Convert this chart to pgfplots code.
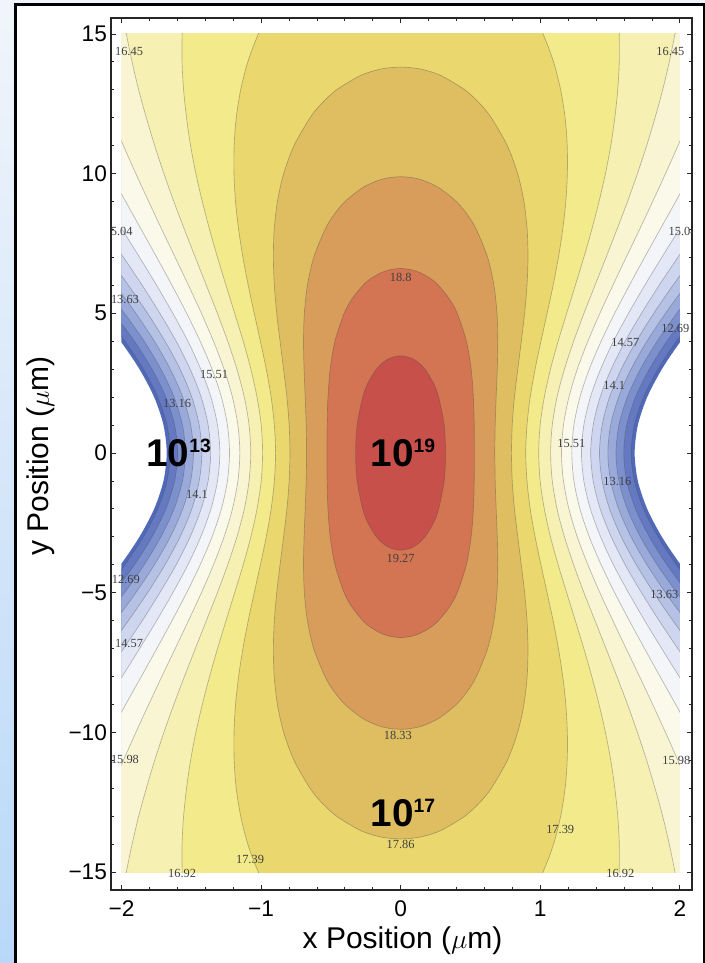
\documentclass[border=0pt]{standalone}
\usepackage{pgfplots}
\pgfplotsset{compat=1.18}
\usepackage{fontspec}
\setmainfont{Liberation Sans}
\newfontfamily\serifnum{Liberation Serif}
\definecolor{bgtop}{HTML}{F1F5FB}
\definecolor{bgmid}{HTML}{D9E8F8}
\definecolor{bgbot}{HTML}{B9D8F8}
\definecolor{c0}{HTML}{5069B9}
\definecolor{c1}{HTML}{6479C2}
\definecolor{c2}{HTML}{7D90CE}
\definecolor{c3}{HTML}{99A9DA}
\definecolor{c4}{HTML}{B5C1E5}
\definecolor{c5}{HTML}{CED6EF}
\definecolor{c6}{HTML}{E4E8F6}
\definecolor{c7}{HTML}{F4F5F8}
\definecolor{c8}{HTML}{FAF9EA}
\definecolor{c9}{HTML}{F9F5D3}
\definecolor{c10}{HTML}{F6F0B2}
\definecolor{c11}{HTML}{F3EA8B}
\definecolor{c12}{HTML}{EAD76D}
\definecolor{c13}{HTML}{DFBE62}
\definecolor{c14}{HTML}{D99D5B}
\definecolor{c15}{HTML}{D37452}
\definecolor{c16}{HTML}{C8504B}
\tikzset{clab/.style={font=\serifnum\fontsize{9.3}{9.3}\selectfont, text=black!75, inner sep=0pt},
big/.style={anchor=base, inner sep=0pt, font=\fontsize{29}{29}\selectfont\bfseries}}
\newcommand{\sups}[1]{\raisebox{0.36em}{\fontsize{14.5}{14.5}\selectfont #1}}
\begin{document}
\begin{tikzpicture}
\useasboundingbox (0,0) rectangle (528.75pt,722.25pt);
\shade[top color=bgtop, middle color=bgmid, bottom color=bgbot] (0,0) rectangle (528.75pt,722.25pt);
\filldraw[fill=white, draw=black, line width=1.9pt] (11.5pt,-6pt) rectangle (527.85pt,718.7pt);

\begin{axis}[at={(91.10pt,68.16pt)}, anchor=south west, scale only axis,
  width=418.8pt, height=628.65pt, xmin=-2, xmax=2, ymin=-15, ymax=15, hide axis,
  every axis plot/.append style={smooth, line width=0.5pt, draw=black!70, draw opacity=0.38}]
% f > 12.00
\addplot[fill=c0, draw=none] coordinates {(2.338,-6)(2.164,-5)(2.006,-4)(1.871,-3)(1.766,-2)(1.699,-1)(1.676,0)(1.699,1)(1.766,2)(1.871,3)(2.006,4)(2.164,5)(2.338,6)(2.6,6)(2.6,16)(-2.6,16)(-2.6,6)(-2.338,6)(-2.164,5)(-2.006,4)(-1.871,3)(-1.766,2)(-1.699,1)(-1.676,0)(-1.699,-1)(-1.766,-2)(-1.871,-3)(-2.006,-4)(-2.164,-5)(-2.338,-6)(-2.6,-6)(-2.6,-16)(2.6,-16)(2.6,-6)(2.338,-6)};
% 12.22
\addplot[fill=c1] coordinates {(2.300,-6)(2.130,-5)(1.975,-4)(1.843,-3)(1.740,-2)(1.674,-1)(1.651,0)(1.674,1)(1.740,2)(1.843,3)(1.975,4)(2.130,5)(2.300,6)(2.6,6)(2.6,16)(-2.6,16)(-2.6,6)(-2.300,6)(-2.130,5)(-1.975,4)(-1.843,3)(-1.740,2)(-1.674,1)(-1.651,0)(-1.674,-1)(-1.740,-2)(-1.843,-3)(-1.975,-4)(-2.130,-5)(-2.300,-6)(-2.6,-6)(-2.6,-16)(2.6,-16)(2.6,-6)(2.300,-6)};
% 12.69
\addplot[fill=c2] coordinates {(2.218,-6)(2.055,-5)(1.907,-4)(1.781,-3)(1.682,-2)(1.619,-1)(1.598,0)(1.619,1)(1.682,2)(1.781,3)(1.907,4)(2.055,5)(2.218,6)(2.6,6)(2.6,16)(-2.6,16)(-2.6,6)(-2.218,6)(-2.055,5)(-1.907,4)(-1.781,3)(-1.682,2)(-1.619,1)(-1.598,0)(-1.619,-1)(-1.682,-2)(-1.781,-3)(-1.907,-4)(-2.055,-5)(-2.218,-6)(-2.6,-6)(-2.6,-16)(2.6,-16)(2.6,-6)(2.218,-6)};
% 13.16
\addplot[fill=c3] coordinates {(2.296,-7)(2.132,-6)(1.978,-5)(1.837,-4)(1.717,-3)(1.623,-2)(1.563,-1)(1.542,0)(1.563,1)(1.623,2)(1.717,3)(1.837,4)(1.978,5)(2.132,6)(2.296,7)(2.6,7)(2.6,16)(-2.6,16)(-2.6,7)(-2.296,7)(-2.132,6)(-1.978,5)(-1.837,4)(-1.717,3)(-1.623,2)(-1.563,1)(-1.542,0)(-1.563,-1)(-1.623,-2)(-1.717,-3)(-1.837,-4)(-1.978,-5)(-2.132,-6)(-2.296,-7)(-2.6,-7)(-2.6,-16)(2.6,-16)(2.6,-7)(2.296,-7)};
% 13.63
\addplot[fill=c4] coordinates {(2.198,-7)(2.043,-6)(1.897,-5)(1.764,-4)(1.650,-3)(1.561,-2)(1.504,-1)(1.484,0)(1.504,1)(1.561,2)(1.650,3)(1.764,4)(1.897,5)(2.043,6)(2.198,7)(2.6,7)(2.6,16)(-2.6,16)(-2.6,7)(-2.198,7)(-2.043,6)(-1.897,5)(-1.764,4)(-1.650,3)(-1.561,2)(-1.504,1)(-1.484,0)(-1.504,-1)(-1.561,-2)(-1.650,-3)(-1.764,-4)(-1.897,-5)(-2.043,-6)(-2.198,-7)(-2.6,-7)(-2.6,-16)(2.6,-16)(2.6,-7)(2.198,-7)};
% 14.10
\addplot[fill=c5] coordinates {(2.244,-8)(2.094,-7)(1.950,-6)(1.813,-5)(1.688,-4)(1.580,-3)(1.496,-2)(1.443,-1)(1.424,0)(1.443,1)(1.496,2)(1.580,3)(1.688,4)(1.813,5)(1.950,6)(2.094,7)(2.244,8)(2.6,8)(2.6,16)(-2.6,16)(-2.6,8)(-2.244,8)(-2.094,7)(-1.950,6)(-1.813,5)(-1.688,4)(-1.580,3)(-1.496,2)(-1.443,1)(-1.424,0)(-1.443,-1)(-1.496,-2)(-1.580,-3)(-1.688,-4)(-1.813,-5)(-1.950,-6)(-2.094,-7)(-2.244,-8)(-2.6,-8)(-2.6,-16)(2.6,-16)(2.6,-8)(2.244,-8)};
% 14.57
\addplot[fill=c6] coordinates {(2.263,-9)(2.123,-8)(1.985,-7)(1.851,-6)(1.725,-5)(1.608,-4)(1.508,-3)(1.429,-2)(1.379,-1)(1.361,0)(1.379,1)(1.429,2)(1.508,3)(1.608,4)(1.725,5)(1.851,6)(1.985,7)(2.123,8)(2.263,9)(2.6,9)(2.6,16)(-2.6,16)(-2.6,9)(-2.263,9)(-2.123,8)(-1.985,7)(-1.851,6)(-1.725,5)(-1.608,4)(-1.508,3)(-1.429,2)(-1.379,1)(-1.361,0)(-1.379,-1)(-1.429,-2)(-1.508,-3)(-1.608,-4)(-1.725,-5)(-1.851,-6)(-1.985,-7)(-2.123,-8)(-2.263,-9)(-2.6,-9)(-2.6,-16)(2.6,-16)(2.6,-9)(2.263,-9)};
% 15.04
\addplot[fill=c7] coordinates {(2.247,-10)(2.121,-9)(1.995,-8)(1.870,-7)(1.748,-6)(1.632,-5)(1.524,-4)(1.432,-3)(1.359,-2)(1.312,-1)(1.295,0)(1.312,1)(1.359,2)(1.432,3)(1.524,4)(1.632,5)(1.748,6)(1.870,7)(1.995,8)(2.121,9)(2.247,10)(2.6,10)(2.6,16)(-2.6,16)(-2.6,10)(-2.247,10)(-2.121,9)(-1.995,8)(-1.870,7)(-1.748,6)(-1.632,5)(-1.524,4)(-1.432,3)(-1.359,2)(-1.312,1)(-1.295,0)(-1.312,-1)(-1.359,-2)(-1.432,-3)(-1.524,-4)(-1.632,-5)(-1.748,-6)(-1.870,-7)(-1.995,-8)(-2.121,-9)(-2.247,-10)(-2.6,-10)(-2.6,-16)(2.6,-16)(2.6,-10)(2.247,-10)};
% 15.51
\addplot[fill=c8] coordinates {(2.187,-11)(2.080,-10)(1.970,-9)(1.858,-8)(1.747,-7)(1.638,-6)(1.533,-5)(1.436,-4)(1.351,-3)(1.284,-2)(1.241,-1)(1.226,0)(1.241,1)(1.284,2)(1.351,3)(1.436,4)(1.533,5)(1.638,6)(1.747,7)(1.858,8)(1.970,9)(2.080,10)(2.187,11)(2.6,11)(2.6,16)(-2.6,16)(-2.6,11)(-2.187,11)(-2.080,10)(-1.970,9)(-1.858,8)(-1.747,7)(-1.638,6)(-1.533,5)(-1.436,4)(-1.351,3)(-1.284,2)(-1.241,1)(-1.226,0)(-1.241,-1)(-1.284,-2)(-1.351,-3)(-1.436,-4)(-1.533,-5)(-1.638,-6)(-1.747,-7)(-1.858,-8)(-1.970,-9)(-2.080,-10)(-2.187,-11)(-2.6,-11)(-2.6,-16)(2.6,-16)(2.6,-11)(2.187,-11)};
% 15.98
\addplot[fill=c9] coordinates {(2.151,-13)(2.071,-12)(1.986,-11)(1.897,-10)(1.805,-9)(1.711,-8)(1.615,-7)(1.520,-6)(1.427,-5)(1.341,-4)(1.265,-3)(1.205,-2)(1.166,-1)(1.152,0)(1.166,1)(1.205,2)(1.265,3)(1.341,4)(1.427,5)(1.520,6)(1.615,7)(1.711,8)(1.805,9)(1.897,10)(1.986,11)(2.071,12)(2.151,13)(2.6,13)(2.6,16)(-2.6,16)(-2.6,13)(-2.151,13)(-2.071,12)(-1.986,11)(-1.897,10)(-1.805,9)(-1.711,8)(-1.615,7)(-1.520,6)(-1.427,5)(-1.341,4)(-1.265,3)(-1.205,2)(-1.166,1)(-1.152,0)(-1.166,-1)(-1.205,-2)(-1.265,-3)(-1.341,-4)(-1.427,-5)(-1.520,-6)(-1.615,-7)(-1.711,-8)(-1.805,-9)(-1.897,-10)(-1.986,-11)(-2.071,-12)(-2.151,-13)(-2.6,-13)(-2.6,-16)(2.6,-16)(2.6,-13)(2.151,-13)};
% 16.45
\addplot[fill=c10] coordinates {(1.999,-16)(1.965,-15)(1.924,-14)(1.877,-13)(1.822,-12)(1.762,-11)(1.696,-10)(1.625,-9)(1.549,-8)(1.471,-7)(1.392,-6)(1.313,-5)(1.239,-4)(1.173,-3)(1.120,-2)(1.086,-1)(1.074,0)(1.086,1)(1.120,2)(1.173,3)(1.239,4)(1.313,5)(1.392,6)(1.471,7)(1.549,8)(1.625,9)(1.696,10)(1.762,11)(1.822,12)(1.877,13)(1.924,14)(1.965,15)(1.999,16)(-1.999,16)(-1.965,15)(-1.924,14)(-1.877,13)(-1.822,12)(-1.762,11)(-1.696,10)(-1.625,9)(-1.549,8)(-1.471,7)(-1.392,6)(-1.313,5)(-1.239,4)(-1.173,3)(-1.120,2)(-1.086,1)(-1.074,0)(-1.086,-1)(-1.120,-2)(-1.173,-3)(-1.239,-4)(-1.313,-5)(-1.392,-6)(-1.471,-7)(-1.549,-8)(-1.625,-9)(-1.696,-10)(-1.762,-11)(-1.822,-12)(-1.877,-13)(-1.924,-14)(-1.965,-15)(-1.999,-16)(1.999,-16)};
% 16.92
\addplot[fill=c11] coordinates {(1.553,-16)(1.565,-15)(1.566,-14)(1.555,-13)(1.534,-12)(1.505,-11)(1.467,-10)(1.421,-9)(1.369,-8)(1.312,-7)(1.251,-6)(1.189,-5)(1.128,-4)(1.073,-3)(1.029,-2)(0.999,-1)(0.989,0)(0.999,1)(1.029,2)(1.073,3)(1.128,4)(1.189,5)(1.251,6)(1.312,7)(1.369,8)(1.421,9)(1.467,10)(1.505,11)(1.534,12)(1.555,13)(1.566,14)(1.565,15)(1.553,16)(-1.553,16)(-1.565,15)(-1.566,14)(-1.555,13)(-1.534,12)(-1.505,11)(-1.467,10)(-1.421,9)(-1.369,8)(-1.312,7)(-1.251,6)(-1.189,5)(-1.128,4)(-1.073,3)(-1.029,2)(-0.999,1)(-0.989,0)(-0.999,-1)(-1.029,-2)(-1.073,-3)(-1.128,-4)(-1.189,-5)(-1.251,-6)(-1.312,-7)(-1.369,-8)(-1.421,-9)(-1.467,-10)(-1.505,-11)(-1.534,-12)(-1.555,-13)(-1.566,-14)(-1.565,-15)(-1.553,-16)(1.553,-16)};
% 17.39
\addplot[fill=c12] coordinates {(0.912,-16)(1.019,-15)(1.095,-14)(1.146,-13)(1.178,-12)(1.193,-11)(1.194,-10)(1.183,-9)(1.161,-8)(1.130,-7)(1.092,-6)(1.049,-5)(1.005,-4)(0.963,-3)(0.928,-2)(0.905,-1)(0.896,0)(0.905,1)(0.928,2)(0.963,3)(1.005,4)(1.049,5)(1.092,6)(1.130,7)(1.161,8)(1.183,9)(1.194,10)(1.193,11)(1.178,12)(1.146,13)(1.095,14)(1.019,15)(0.912,16)(-0.912,16)(-1.019,15)(-1.095,14)(-1.146,13)(-1.178,12)(-1.193,11)(-1.194,10)(-1.183,9)(-1.161,8)(-1.130,7)(-1.092,6)(-1.049,5)(-1.005,4)(-0.963,3)(-0.928,2)(-0.905,1)(-0.896,0)(-0.905,-1)(-0.928,-2)(-0.963,-3)(-1.005,-4)(-1.049,-5)(-1.092,-6)(-1.130,-7)(-1.161,-8)(-1.183,-9)(-1.194,-10)(-1.193,-11)(-1.178,-12)(-1.146,-13)(-1.095,-14)(-1.019,-15)(-0.912,-16)(0.912,-16)};
% 17.86
\addplot[fill=c13] coordinates {(0.793,0)(0.799,1)(0.815,2)(0.839,3)(0.864,4)(0.888,5)(0.905,6)(0.912,7)(0.906,8)(0.883,9)(0.838,10)(0.764,11)(0.649,12)(0.568,12.5)(0.459,13)(0.292,13.5)(0.178,13.7)(0.096,13.78)(0,13.813)(-0.096,13.78)(-0.178,13.7)(-0.292,13.5)(-0.459,13)(-0.568,12.5)(-0.649,12)(-0.764,11)(-0.838,10)(-0.883,9)(-0.906,8)(-0.912,7)(-0.905,6)(-0.888,5)(-0.864,4)(-0.839,3)(-0.815,2)(-0.799,1)(-0.793,0)(-0.799,-1)(-0.815,-2)(-0.839,-3)(-0.864,-4)(-0.888,-5)(-0.905,-6)(-0.912,-7)(-0.906,-8)(-0.883,-9)(-0.838,-10)(-0.764,-11)(-0.649,-12)(-0.568,-12.5)(-0.459,-13)(-0.292,-13.5)(-0.178,-13.7)(-0.096,-13.78)(0,-13.813)(0.096,-13.78)(0.178,-13.7)(0.292,-13.5)(0.459,-13)(0.568,-12.5)(0.649,-12)(0.764,-11)(0.838,-10)(0.883,-9)(0.906,-8)(0.912,-7)(0.905,-6)(0.888,-5)(0.864,-4)(0.839,-3)(0.815,-2)(0.799,-1)(0.793,0)};
% 18.33
\addplot[fill=c14] coordinates {(0.674,0)(0.677,1)(0.684,2)(0.692,3)(0.696,4)(0.690,5)(0.668,6)(0.623,7)(0.542,8)(0.482,8.5)(0.399,9)(0.272,9.5)(0.165,9.75)(0.087,9.85)(0,9.888)(-0.087,9.85)(-0.165,9.75)(-0.272,9.5)(-0.399,9)(-0.482,8.5)(-0.542,8)(-0.623,7)(-0.668,6)(-0.690,5)(-0.696,4)(-0.692,3)(-0.684,2)(-0.677,1)(-0.674,0)(-0.677,-1)(-0.684,-2)(-0.692,-3)(-0.696,-4)(-0.690,-5)(-0.668,-6)(-0.623,-7)(-0.542,-8)(-0.482,-8.5)(-0.399,-9)(-0.272,-9.5)(-0.165,-9.75)(-0.087,-9.85)(0,-9.888)(0.087,-9.85)(0.165,-9.75)(0.272,-9.5)(0.399,-9)(0.482,-8.5)(0.542,-8)(0.623,-7)(0.668,-6)(0.690,-5)(0.696,-4)(0.692,-3)(0.684,-2)(0.677,-1)(0.674,0)};
% 18.80
\addplot[fill=c15] coordinates {(0.528,0)(0.527,1)(0.521,2)(0.505,3)(0.471,4)(0.405,5)(0.351,5.5)(0.271,6)(0.212,6.25)(0.142,6.45)(0.077,6.56)(0,6.605)(-0.077,6.56)(-0.142,6.45)(-0.212,6.25)(-0.271,6)(-0.351,5.5)(-0.405,5)(-0.471,4)(-0.505,3)(-0.521,2)(-0.527,1)(-0.528,0)(-0.527,-1)(-0.521,-2)(-0.505,-3)(-0.471,-4)(-0.405,-5)(-0.351,-5.5)(-0.271,-6)(-0.212,-6.25)(-0.142,-6.45)(-0.077,-6.56)(0,-6.605)(0.077,-6.56)(0.142,-6.45)(0.212,-6.25)(0.271,-6)(0.351,-5.5)(0.405,-5)(0.471,-4)(0.505,-3)(0.521,-2)(0.527,-1)(0.528,0)};
% 19.27
\addplot[fill=c16] coordinates {(0.323,0)(0.312,1)(0.272,2)(0.235,2.5)(0.174,3)(0.124,3.25)(0.074,3.4)(0,3.479)(-0.074,3.4)(-0.124,3.25)(-0.174,3)(-0.235,2.5)(-0.272,2)(-0.312,1)(-0.323,0)(-0.312,-1)(-0.272,-2)(-0.235,-2.5)(-0.174,-3)(-0.124,-3.25)(-0.074,-3.4)(0,-3.479)(0.074,-3.4)(0.124,-3.25)(0.174,-3)(0.235,-2.5)(0.272,-2)(0.312,-1)(0.323,0)};
\end{axis}

\begin{axis}[at={(83.25pt,54.75pt)}, anchor=south west, scale only axis,
  width=435.75pt, height=654pt, xmin=-2.075, xmax=2.087, ymin=-15.64, ymax=15.57,
  axis line style={black!85, line width=0.8pt},
  tick align=inside,
  xtick={-2,-1,0,1,2}, xticklabels={−2,−1,0,1,2},
  ytick={-15,-10,-5,0,5,10,15}, yticklabels={−15,−10,−5,0,5,10,15},
  minor x tick num=4, minor y tick num=4,
  major tick length=3.75pt, minor tick length=2.25pt,
  tick style={black!85, line width=0.6pt},
  tick label style={font=\fontsize{17}{17}\selectfont},
  yticklabel style={xshift=0.5pt},
  xticklabel style={yshift=-4.5pt}]
\node[clab] at (axis cs:-1.946,14.37) {16.45};
\node[clab] at (axis cs:1.932,14.38) {16.45};
\node[clab] at (axis cs:-2.02,7.93) {15.04};
\node[clab] at (axis cs:2.02,7.93) {15.04};
\node[clab] at (axis cs:-1.975,5.49) {13.63};
\node[clab] at (axis cs:-1.337,2.80) {15.51};
\node[clab] at (axis cs:-1.602,1.79) {13.16};
\node[clab] at (axis cs:-1.459,-1.49) {14.1};
\node[clab] at (axis cs:-1.968,-4.54) {12.69};
\node[clab] at (axis cs:-1.946,-6.80) {14.57};
\node[clab] at (axis cs:-1.975,-10.98) {15.98};
\node[clab] at (axis cs:-1.566,-15.04) {16.92};
\node[clab] at (axis cs:-1.079,-14.56) {17.39};
\node[clab] at (axis cs:0,6.27) {18.8};
\node[clab] at (axis cs:0,-3.76) {19.27};
\node[clab] at (axis cs:-0.02,-10.12) {18.33};
\node[clab] at (axis cs:0,-14.02) {17.86};
\node[clab] at (axis cs:1.968,4.44) {12.69};
\node[clab] at (axis cs:1.609,3.94) {14.57};
\node[clab] at (axis cs:1.53,2.41) {14.1};
\node[clab] at (axis cs:1.222,0.33) {15.51};
\node[clab] at (axis cs:1.552,-1.02) {13.16};
\node[clab] at (axis cs:1.889,-5.07) {13.63};
\node[clab] at (axis cs:1.975,-11.0) {15.98};
\node[clab] at (axis cs:1.143,-13.49) {17.39};
\node[clab] at (axis cs:1.573,-15.04) {16.92};
\node[big] at (axis cs:-1.590,-0.49) {10\sups{13}};
\node[big] at (axis cs:0.016,-0.48) {10\sups{19}};
\node[big] at (axis cs:0.016,-13.36) {10\sups{17}};
\end{axis}

\node[rotate=90, inner sep=0pt, font=\fontsize{22.5}{22.5}\selectfont] at (30.75pt,380.25pt) {y Position ($\mu$m)};
\node[inner sep=0pt, font=\fontsize{22.5}{22.5}\selectfont] at (301.9pt,16.5pt) {x Position ($\mu$m)};
\end{tikzpicture}
\end{document}
